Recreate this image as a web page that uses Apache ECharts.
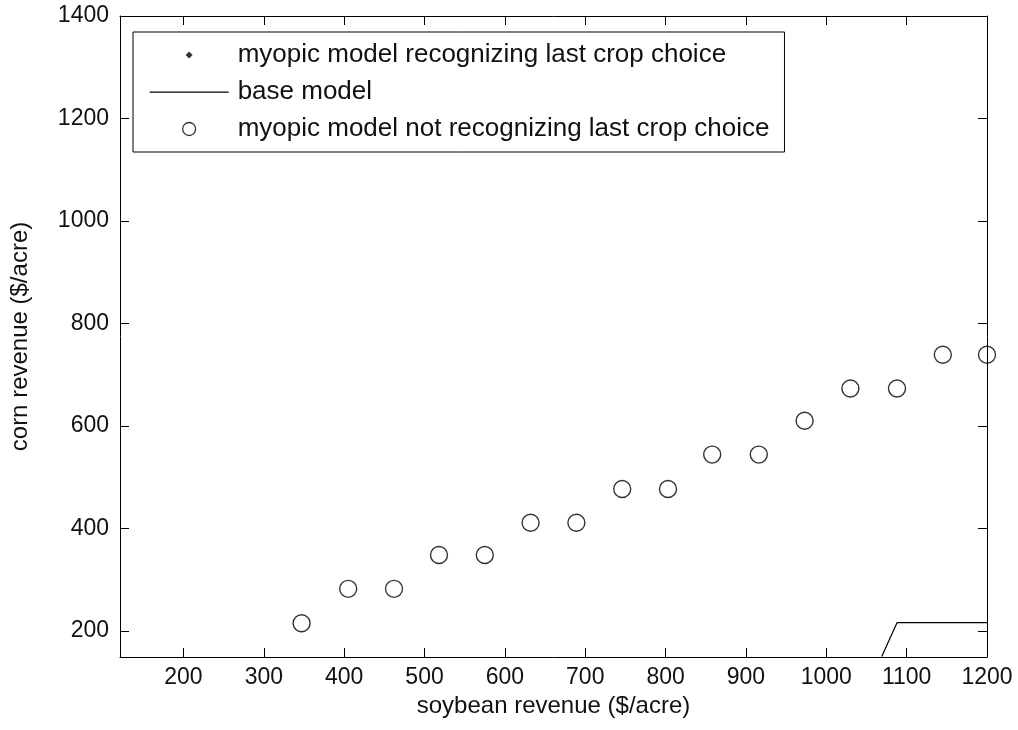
<!DOCTYPE html>
<html>
<head>
<meta charset="utf-8">
<script src="https://cdn.jsdelivr.net/npm/echarts@6/dist/echarts.min.js"></script>
<style>
html,body{margin:0;padding:0;background:#fff;}
#chart{width:1018px;height:730px;}
</style>
</head>
<body>
<div id="chart"></div>
<script>
// ---- data ----
const seriesNames = [
  'myopic model recognizing last crop choice',
  'base model',
  'myopic model not recognizing last crop choice'
];
// myopic model recognizing last crop choice: no visible points
const recognizingX = [];
const recognizingY = [];
// base model (only visible segment in the plotted range)
const baseX = [1069, 1088, 1200];
const baseY = [150, 216, 216];
// myopic model not recognizing last crop choice
const notRecognizingX = [347, 405, 462, 518, 575, 632, 689, 746, 803, 858, 916, 973, 1030, 1088, 1145, 1200];
const notRecognizingY = [215, 282, 282, 348, 348, 411, 411, 477, 477, 544, 544, 610, 673, 673, 739, 739];
// axes
const xTicks = [200, 300, 400, 500, 600, 700, 800, 900, 1000, 1100, 1200];
const yTicks = [200, 400, 600, 800, 1000, 1200, 1400];
const xMin = 121, xMax = 1200;
const yMin = 149, yMax = 1400;
const xTitle = 'soybean revenue ($/acre)';
const yTitle = 'corn revenue ($/acre)';

const zip = (a, b) => a.map((v, i) => [v, b[i]]);
const FONT = 'Arial, "Liberation Sans", sans-serif';
const TXT = '#111';
const TICK_FS = 23, NAME_FS = 24, LEG_FS = 26;

const chart = echarts.init(document.getElementById('chart'), null, {renderer: 'canvas'});

function mkAxis(pos, ticks, min, max, withLabels, margin, extra) {
  return Object.assign({
    type: 'value', min: min, max: max, position: pos,
    axisLine: {show: true, onZero: false, lineStyle: {color: '#000', width: 1}},
    axisTick: {show: true, inside: true, length: 9, customValues: ticks, lineStyle: {color: '#000', width: 1}},
    splitLine: {show: false},
    axisLabel: withLabels
      ? {customValues: ticks, formatter: v => String(v), color: TXT, fontFamily: FONT, fontSize: TICK_FS, margin: margin}
      : {show: false}
  }, extra || {});
}

const option = {
  animation: false,
  backgroundColor: '#fff',
  grid: {left: 120, right: 31, top: 16, bottom: 73, containLabel: false},
  xAxis: [
    mkAxis('bottom', xTicks, xMin, xMax, true, 9, {
      name: xTitle, nameLocation: 'middle', nameGap: 33,
      nameTextStyle: {color: TXT, fontFamily: FONT, fontSize: NAME_FS}
    }),
    mkAxis('top', xTicks, xMin, xMax, false, 0)
  ],
  yAxis: [
    mkAxis('left', yTicks, yMin, yMax, true, 11, {
      name: yTitle, nameLocation: 'middle', nameGap: 88,
      nameTextStyle: {color: TXT, fontFamily: FONT, fontSize: NAME_FS}
    }),
    mkAxis('right', yTicks, yMin, yMax, false, 0)
  ],
  legend: {
    orient: 'vertical',
    left: 133, top: 32,
    padding: [10, 15, 10, 16],
    backgroundColor: '#fff',
    borderColor: '#000', borderWidth: 1,
    itemWidth: 79, itemHeight: 14, itemGap: 11,
    textStyle: {color: TXT, fontFamily: FONT, fontSize: LEG_FS, padding: [0, 0, 0, 4]},
    data: [
      {name: seriesNames[0], icon: 'path://M0,0 M79,14 M36,7 L39.5,3.5 L43,7 L39.5,10.5 Z', itemStyle: {color: '#000'}},
      {name: seriesNames[1], icon: 'path://M0,0 M79,14 M0,6.5 L79,6.5 L79,7.7 L0,7.7 Z', itemStyle: {color: '#000'}},
      {name: seriesNames[2], icon: 'path://M0,0 M79,14 M33,7 A6.5,6.5 0 1 0 46,7 A6.5,6.5 0 1 0 33,7 Z',
       itemStyle: {color: 'rgba(255,255,255,0)', borderColor: '#000', borderWidth: 1.3}}
    ]
  },
  series: [
    {
      name: seriesNames[0], type: 'scatter', symbol: 'diamond', symbolSize: 7,
      itemStyle: {color: '#000'},
      data: zip(recognizingX, recognizingY)
    },
    {
      name: seriesNames[1], type: 'line', symbol: 'none', clip: true,
      lineStyle: {color: '#000', width: 1.2}, itemStyle: {color: '#000'},
      data: zip(baseX, baseY)
    },
    {
      name: seriesNames[2], type: 'scatter', symbol: 'circle', symbolSize: 17,
      itemStyle: {color: 'rgba(255,255,255,0)', borderColor: '#000', borderWidth: 1.4},
      data: zip(notRecognizingX, notRecognizingY)
    }
  ]
};
chart.setOption(option);
</script>
</body>
</html>
